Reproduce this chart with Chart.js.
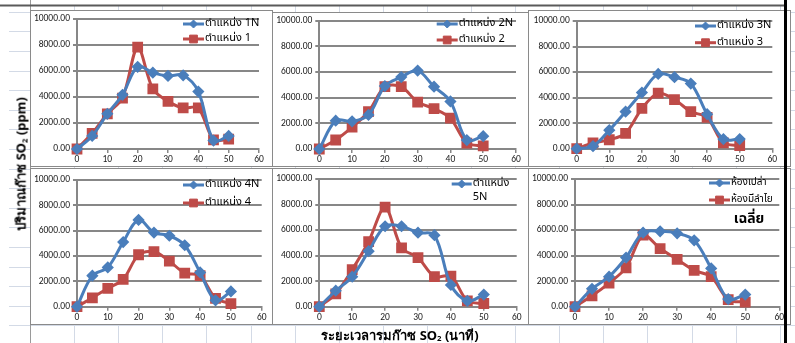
<!DOCTYPE html>
<html>
<head>
<meta charset="utf-8">
<script src="https://cdn.jsdelivr.net/npm/chart.js@4.4.1/dist/chart.umd.min.js"></script>
<style>
  html, body { margin: 0; padding: 0; }
  body { width: 795px; height: 343px; position: relative; overflow: hidden; background: #fff;
         font-family: Tahoma, "Noto Sans", "DejaVu Sans", sans-serif; }
  #sheet { position: absolute; left: 0; top: 0; }
  .panel { position: absolute; background: #fff; }
  .panel canvas { position: absolute; left: 0; top: 0; }
  .frame { position: absolute; left: 0; top: 0; right: 0; bottom: 0; border: 1.5px solid #8a8a8a;
           box-sizing: border-box; pointer-events: none; }
  #xtitle { position: absolute; left: 400px; top: 335px; transform: translate(-50%, -50%);
            white-space: nowrap; font-weight: bold; font-size: 13px; color: #000; }
  #ytitle { position: absolute; left: 21px; top: 164px; transform: translate(-50%, -50%) rotate(-90deg);
            white-space: nowrap; font-weight: bold; font-size: 13px; color: #000; }
  #pageEdge { position: absolute; left: 784px; top: 0; width: 3px; height: 343px; background: #000; z-index: 10; }
  sub { font-size: 0.6em; vertical-align: -0.25em; }
</style>
</head>
<body>
<canvas id="sheet" width="795" height="343"></canvas>

<div class="panel" id="p1" style="left:30px;top:10px;width:243px;height:157px"><canvas id="c1" width="243" height="157"></canvas><div class="frame"></div></div>
<div class="panel" id="p2" style="left:272px;top:12px;width:257px;height:155px"><canvas id="c2" width="257" height="155"></canvas><div class="frame"></div></div>
<div class="panel" id="p3" style="left:528px;top:10px;width:263px;height:157px"><canvas id="c3" width="263" height="157"></canvas><div class="frame"></div></div>
<div class="panel" id="p4" style="left:30px;top:168px;width:243px;height:157px"><canvas id="c4" width="243" height="157"></canvas><div class="frame"></div></div>
<div class="panel" id="p5" style="left:272px;top:168px;width:257px;height:157px"><canvas id="c5" width="257" height="157"></canvas><div class="frame"></div></div>
<div class="panel" id="p6" style="left:528px;top:168px;width:263px;height:157px"><canvas id="c6" width="263" height="157"></canvas><div class="frame"></div></div>

<div id="xtitle">ระยะเวลารมก๊าซ SO<sub>2</sub> (นาที)</div>
<div id="ytitle">ปริมาณก๊าซ SO<sub>2</sub> (ppm)</div>
<div id="pageEdge"></div>

<script>
// Sampling times (minutes of SO2 fumigation)
const minutes = [0, 5, 10, 15, 20, 25, 30, 35, 40, 45, 50];

// SO2 concentration (ppm) at each position: "N" = empty room, plain = room with longan
const pos1N = [0, 1000, 2700, 4150, 6300, 5850, 5600, 5650, 4400, 650, 1000];
const pos1  = [0, 1200, 2700, 3900, 7800, 4600, 3650, 3150, 3150, 700, 750];
const pos2N = [0, 2200, 2150, 2650, 4900, 5600, 6100, 4850, 3700, 700, 1000];
const pos2  = [0, 700, 1700, 2900, 4850, 4850, 3650, 3150, 2400, 450, 250];
const pos3N = [0, 200, 1450, 2900, 4400, 5850, 5600, 5100, 2700, 750, 750];
const pos3  = [0, 450, 700, 1200, 3150, 4350, 3850, 2900, 2450, 450, 250];
const pos4N = [0, 2450, 3100, 5100, 6850, 5850, 5600, 4850, 2700, 500, 1200];
const pos4  = [0, 700, 1450, 2150, 4100, 4350, 3600, 2650, 2450, 650, 250];
const pos5N = [0, 1250, 2350, 4350, 6300, 6300, 5800, 5600, 1700, 450, 950];
const pos5  = [0, 1000, 2900, 5100, 7800, 4600, 3850, 2350, 2400, 450, 250];
const avgEmpty  = [0, 1400, 2350, 3850, 5800, 5900, 5750, 5200, 3000, 600, 950];
const avgLongan = [0, 850, 1850, 3050, 5600, 4550, 3700, 2850, 2350, 550, 350];

// Axis ticks
const xTicks = [0, 10, 20, 30, 40, 50, 60];
const yTicks = [0, 2000, 4000, 6000, 8000, 10000];

// Legend labels
const labels1 = ['ตำแหน่ง 1N', 'ตำแหน่ง 1'];
const labels2 = ['ตำแหน่ง 2N', 'ตำแหน่ง 2'];
const labels3 = ['ตำแหน่ง 3N', 'ตำแหน่ง 3'];
const labels4 = ['ตำแหน่ง 4N', 'ตำแหน่ง 4'];
const labels5 = ['ตำแหน่ง 5N', 'ตำแหน่ง 5'];
const labels6 = ['ห้องเปล่า', 'ห้องมีลำไย'];
const avgTitle = 'เฉลี่ย';

// ---- spreadsheet backdrop ----
(function drawSheet() {
  const c = document.getElementById('sheet');
  const ctx = c.getContext('2d');
  ctx.strokeStyle = '#d3dae6';
  ctx.lineWidth = 1;
  for (let k = 0; k < 19; k++) {
    const x = Math.round(30 + 44.1 * k) + 0.5;
    ctx.beginPath(); ctx.moveTo(x, 6); ctx.lineTo(x, 343); ctx.stroke();
  }
  for (let k = 0; k < 18; k++) {
    const y = Math.round(11.7 + 19.6 * k) + 0.5;
    ctx.beginPath(); ctx.moveTo(9, y); ctx.lineTo(795, y); ctx.stroke();
  }
  ctx.strokeStyle = '#9a9a9a';
  ctx.beginPath(); ctx.moveTo(30.5, 0); ctx.lineTo(30.5, 343); ctx.stroke();
  // dark rule along the top
  ctx.strokeStyle = '#5a5a5a';
  ctx.lineWidth = 2;
  ctx.beginPath(); ctx.moveTo(0, 5.5); ctx.lineTo(785, 5.5); ctx.stroke();
})();

// ---- chart panels ----
const BLUE = '#4a7ebb';
const RED = '#be4b48';
const AXIS = '#878787';
const TICK_FONT = { family: 'Carlito, "Liberation Sans", Arial, sans-serif', size: 9.5 };
const THAI_FONT = 'Tahoma, "Noto Sans Thai", "Noto Sans", "DejaVu Sans", sans-serif';

// Draws the legend entries inside the plot area, at fixed spots
const cornerLegend = {
  id: 'cornerLegend',
  afterDatasetsDraw(chart, args, opts) {
    if (!opts.items) return;
    const ctx = chart.ctx;
    ctx.save();
    ctx.textBaseline = 'middle';
    ctx.textAlign = 'left';
    opts.items.forEach(it => {
      const ds = chart.data.datasets[it.index];
      ctx.strokeStyle = ds.borderColor;
      ctx.lineWidth = ds.borderWidth;
      ctx.beginPath();
      ctx.moveTo(it.x, it.y);
      ctx.lineTo(it.x + opts.lineLen, it.y);
      ctx.stroke();
      ctx.fillStyle = ds.pointBackgroundColor;
      ctx.strokeStyle = ds.pointBorderColor;
      ctx.lineWidth = 1;
      Chart.helpers.drawPoint(ctx, { pointStyle: ds.pointStyle, radius: ds.pointRadius, rotation: 0, borderWidth: 1 },
        it.x + opts.lineLen / 2, it.y);
      ctx.fillStyle = '#000';
      ctx.font = (opts.fontSize || 11) + 'px ' + THAI_FONT;
      const text = it.text !== undefined ? it.text : ds.label;
      const lines = Array.isArray(text) ? text : [text];
      lines.forEach((t, i) => ctx.fillText(t, it.x + opts.lineLen + 1, it.y + i * (opts.lineGap || 14)));
    });
    if (opts.title) {
      ctx.font = 'bold 14px ' + THAI_FONT;
      ctx.textAlign = 'center';
      ctx.fillText(opts.title.text, opts.title.x, opts.title.y);
    }
    ctx.restore();
  }
};

function makePanel(canvasId, blueVals, redVals, names, g, legend) {
  const toPts = vals => minutes.map((m, i) => ({ x: m, y: vals[i] }));
  const canvas = document.getElementById(canvasId);
  return new Chart(canvas, {
    type: 'line',
    data: {
      datasets: [
        { label: names[0], data: toPts(blueVals), borderColor: BLUE, backgroundColor: BLUE,
          borderWidth: 3, tension: 0.35, pointStyle: 'rectRot', pointRadius: 4,
          pointBackgroundColor: BLUE, pointBorderColor: BLUE, clip: false },
        { label: names[1], data: toPts(redVals), borderColor: RED, backgroundColor: RED,
          borderWidth: 3, tension: 0.3, pointStyle: 'rect', pointRadius: 5.5,
          pointBackgroundColor: RED, pointBorderColor: RED, clip: false }
      ]
    },
    options: {
      responsive: false,
      animation: false,
      devicePixelRatio: 1,
      layout: { padding: { top: g.top, right: g.w - g.right, left: 0, bottom: 0 } },
      plugins: {
        legend: { display: false },
        tooltip: { enabled: false },
        cornerLegend: legend
      },
      scales: {
        x: {
          type: 'linear', min: xTicks[0], max: xTicks[xTicks.length - 1],
          afterBuildTicks: s => { s.ticks = xTicks.map(v => ({ value: v })); },
          ticks: { color: '#1a1a1a', font: TICK_FONT, padding: 1, maxRotation: 0, autoSkip: false },
          grid: { drawOnChartArea: false, drawTicks: true, tickLength: 4, color: AXIS, lineWidth: 1.5 },
          border: { color: AXIS, width: 2 },
          afterFit: s => { s.height = g.h - g.zero; s.paddingLeft = 0; s.paddingRight = 0; }
        },
        y: {
          min: yTicks[0], max: yTicks[yTicks.length - 1],
          afterBuildTicks: s => { s.ticks = yTicks.map(v => ({ value: v })); },
          ticks: { color: '#1a1a1a', font: TICK_FONT, padding: 3, callback: v => v.toFixed(2) },
          grid: { color: AXIS, lineWidth: 2, tickLength: 4 },
          border: { color: AXIS, width: 2 },
          afterFit: s => { s.width = g.axis; s.paddingTop = 0; s.paddingBottom = 0; }
        }
      }
    },
    plugins: [cornerLegend]
  });
}

makePanel('c1', pos1N, pos1, labels1, { w: 243, h: 157, axis: 47, right: 229, top: 7.3, zero: 139 },
  { lineLen: 21, items: [{ index: 0, x: 153, y: 14 }, { index: 1, x: 153, y: 29 }] });
makePanel('c2', pos2N, pos2, labels2, { w: 257, h: 155, axis: 47.3, right: 244, top: 5.3, zero: 137 },
  { lineLen: 21, items: [{ index: 0, x: 164.7, y: 12 }, { index: 1, x: 164.7, y: 28 }] });
makePanel('c3', pos3N, pos3, labels3, { w: 263, h: 157, axis: 48.7, right: 244.3, top: 11, zero: 138.7 },
  { lineLen: 21, items: [{ index: 0, x: 167, y: 16 }, { index: 1, x: 167, y: 32.7 }] });
makePanel('c4', pos4N, pos4, labels4, { w: 243, h: 157, axis: 47, right: 231.7, top: 12, zero: 138.7 },
  { lineLen: 21, items: [{ index: 0, x: 153, y: 17 }, { index: 1, x: 153, y: 35 }] });
makePanel('c5', pos5N, pos5, labels5, { w: 257, h: 157, axis: 47.3, right: 244.7, top: 11, zero: 138.7 },
  { lineLen: 20, lineGap: 14, items: [{ index: 0, x: 179.7, y: 16, text: ['ตำแหน่ง', '5N'] }] });
makePanel('c6', avgEmpty, avgLongan, labels6, { w: 263, h: 157, axis: 47, right: 251.3, top: 11, zero: 138.7 },
  { lineLen: 21, fontSize: 10, items: [{ index: 0, x: 181, y: 15 }, { index: 1, x: 181, y: 32 }],
    title: { text: avgTitle, x: 221, y: 52 } });
</script>
</body>
</html>
